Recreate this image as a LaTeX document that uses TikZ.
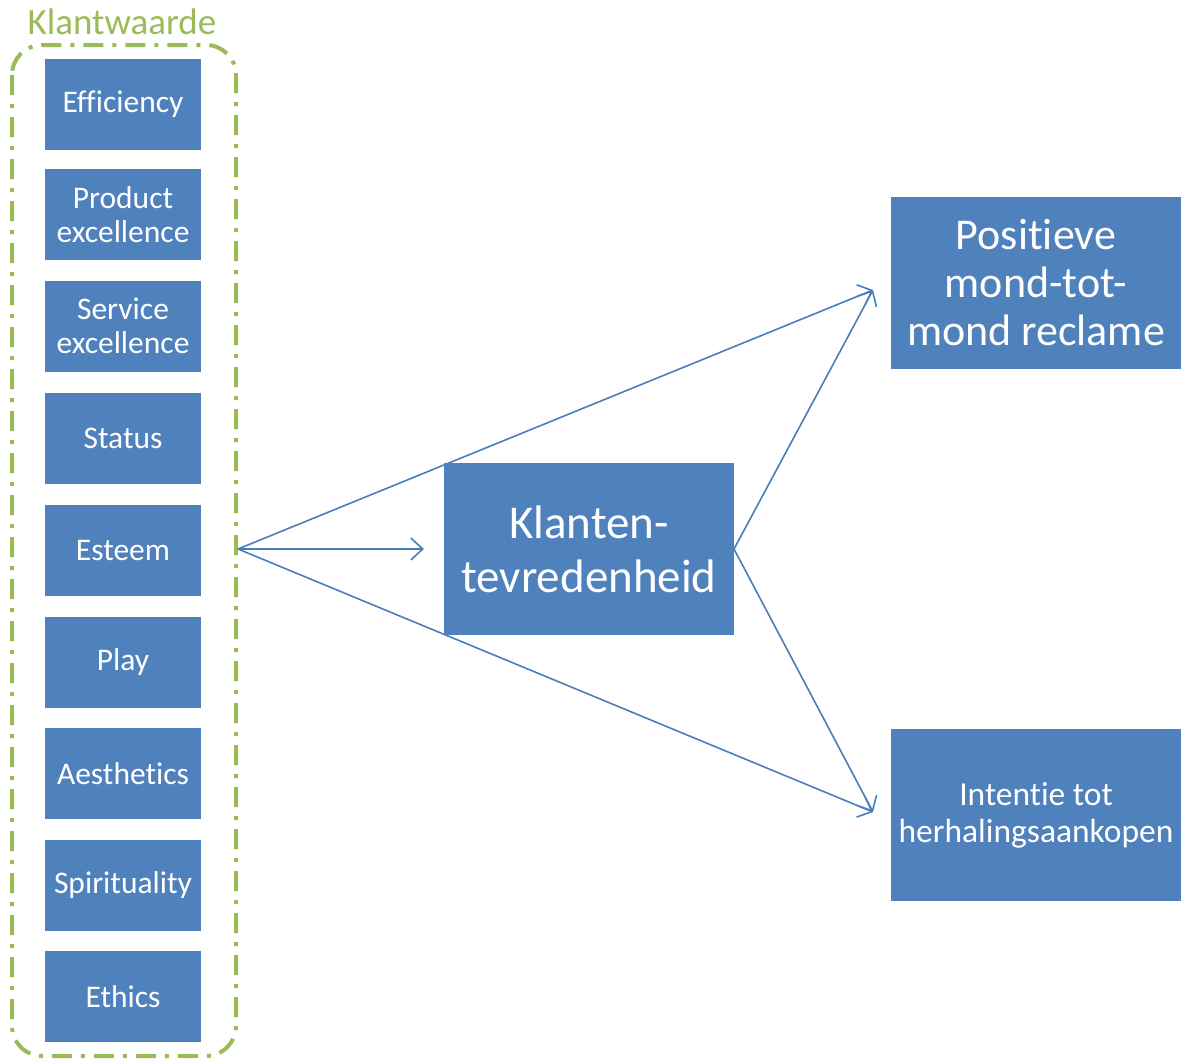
\documentclass[tikz,border=0pt]{standalone}
\usepackage{fontspec}
\setmainfont{Carlito}[Ligatures=NoCommon]
\usetikzlibrary{arrows.meta}
\definecolor{boxblue}{HTML}{4F81BD}
\definecolor{lineblue}{HTML}{4A7EBB}
\definecolor{valgreen}{HTML}{9BBB59}
\begin{document}
\begin{tikzpicture}[x=1pt,y=-1pt,
  valbox/.style={fill=boxblue, inner sep=0pt, minimum width=156pt, minimum height=91pt,
    text=white, align=center, font=\fontsize{31.5}{34}\selectfont},
  bigbox/.style={fill=boxblue, inner sep=0pt, minimum width=290pt, minimum height=172pt,
    text=white, align=center},
  link/.style={draw=lineblue, line width=1.6pt,
    -{Straight Barb[length=12pt, width=22pt, line width=1.6pt]}},
  group/.style={draw=valgreen, line width=4pt, rounded corners=30pt,
    dash pattern=on 20pt off 9pt on 4pt off 9pt}
]
\useasboundingbox (0,0) rectangle (1182,1061);

% customer value group
\draw[group] (12,45) rectangle (236,1056);
\node[text=valgreen, font=\fontsize{37}{42}\selectfont] (klantwaarde) at (122,22) {Klantwaarde};

% connector anchor points
\coordinate (src) at (238,549);
\coordinate (mid) at (424,549);
\coordinate (tipup) at (873,290);
\coordinate (tipdown) at (873,812);
\coordinate (kr) at (734,549);

% connectors
\draw[link] (src) -- (tipup);
\draw[link] (src) -- (tipdown);
\draw[link] (src) -- (mid);
\draw[link] (kr) -- (tipup);
\draw[link] (kr) -- (tipdown);

% value dimensions
\node[valbox] (eff) at (123,104) {Efficiency};
\node[valbox] (prod) at (123,214.6) {Product\\excellence};
\node[valbox] (serv) at (123,326.2) {Service\\excellence};
\node[valbox] (stat) at (123,438.8) {Status};
\node[valbox] (este) at (123,550.4) {Esteem};
\node[valbox] (play) at (123,662) {Play};
\node[valbox] (aest) at (123,773.6) {Aesthetics};
\node[valbox] (spir) at (123,885.2) {Spirituality};
\node[valbox] (ethi) at (123,996.8) {Ethics};

% outcomes
\node[bigbox, font=\fontsize{47}{54}\selectfont] (tevr) at (589,549) {Klanten-\\tevredenheid};
\node[bigbox, font=\fontsize{44}{48}\selectfont] (mond) at (1036,283) {Positieve\\mond-tot-\\mond reclame};
\node[bigbox, font=\fontsize{33.5}{37}\selectfont] (herh) at (1036,815) {Intentie tot\\herhalingsaankopen};
\end{tikzpicture}
\end{document}
